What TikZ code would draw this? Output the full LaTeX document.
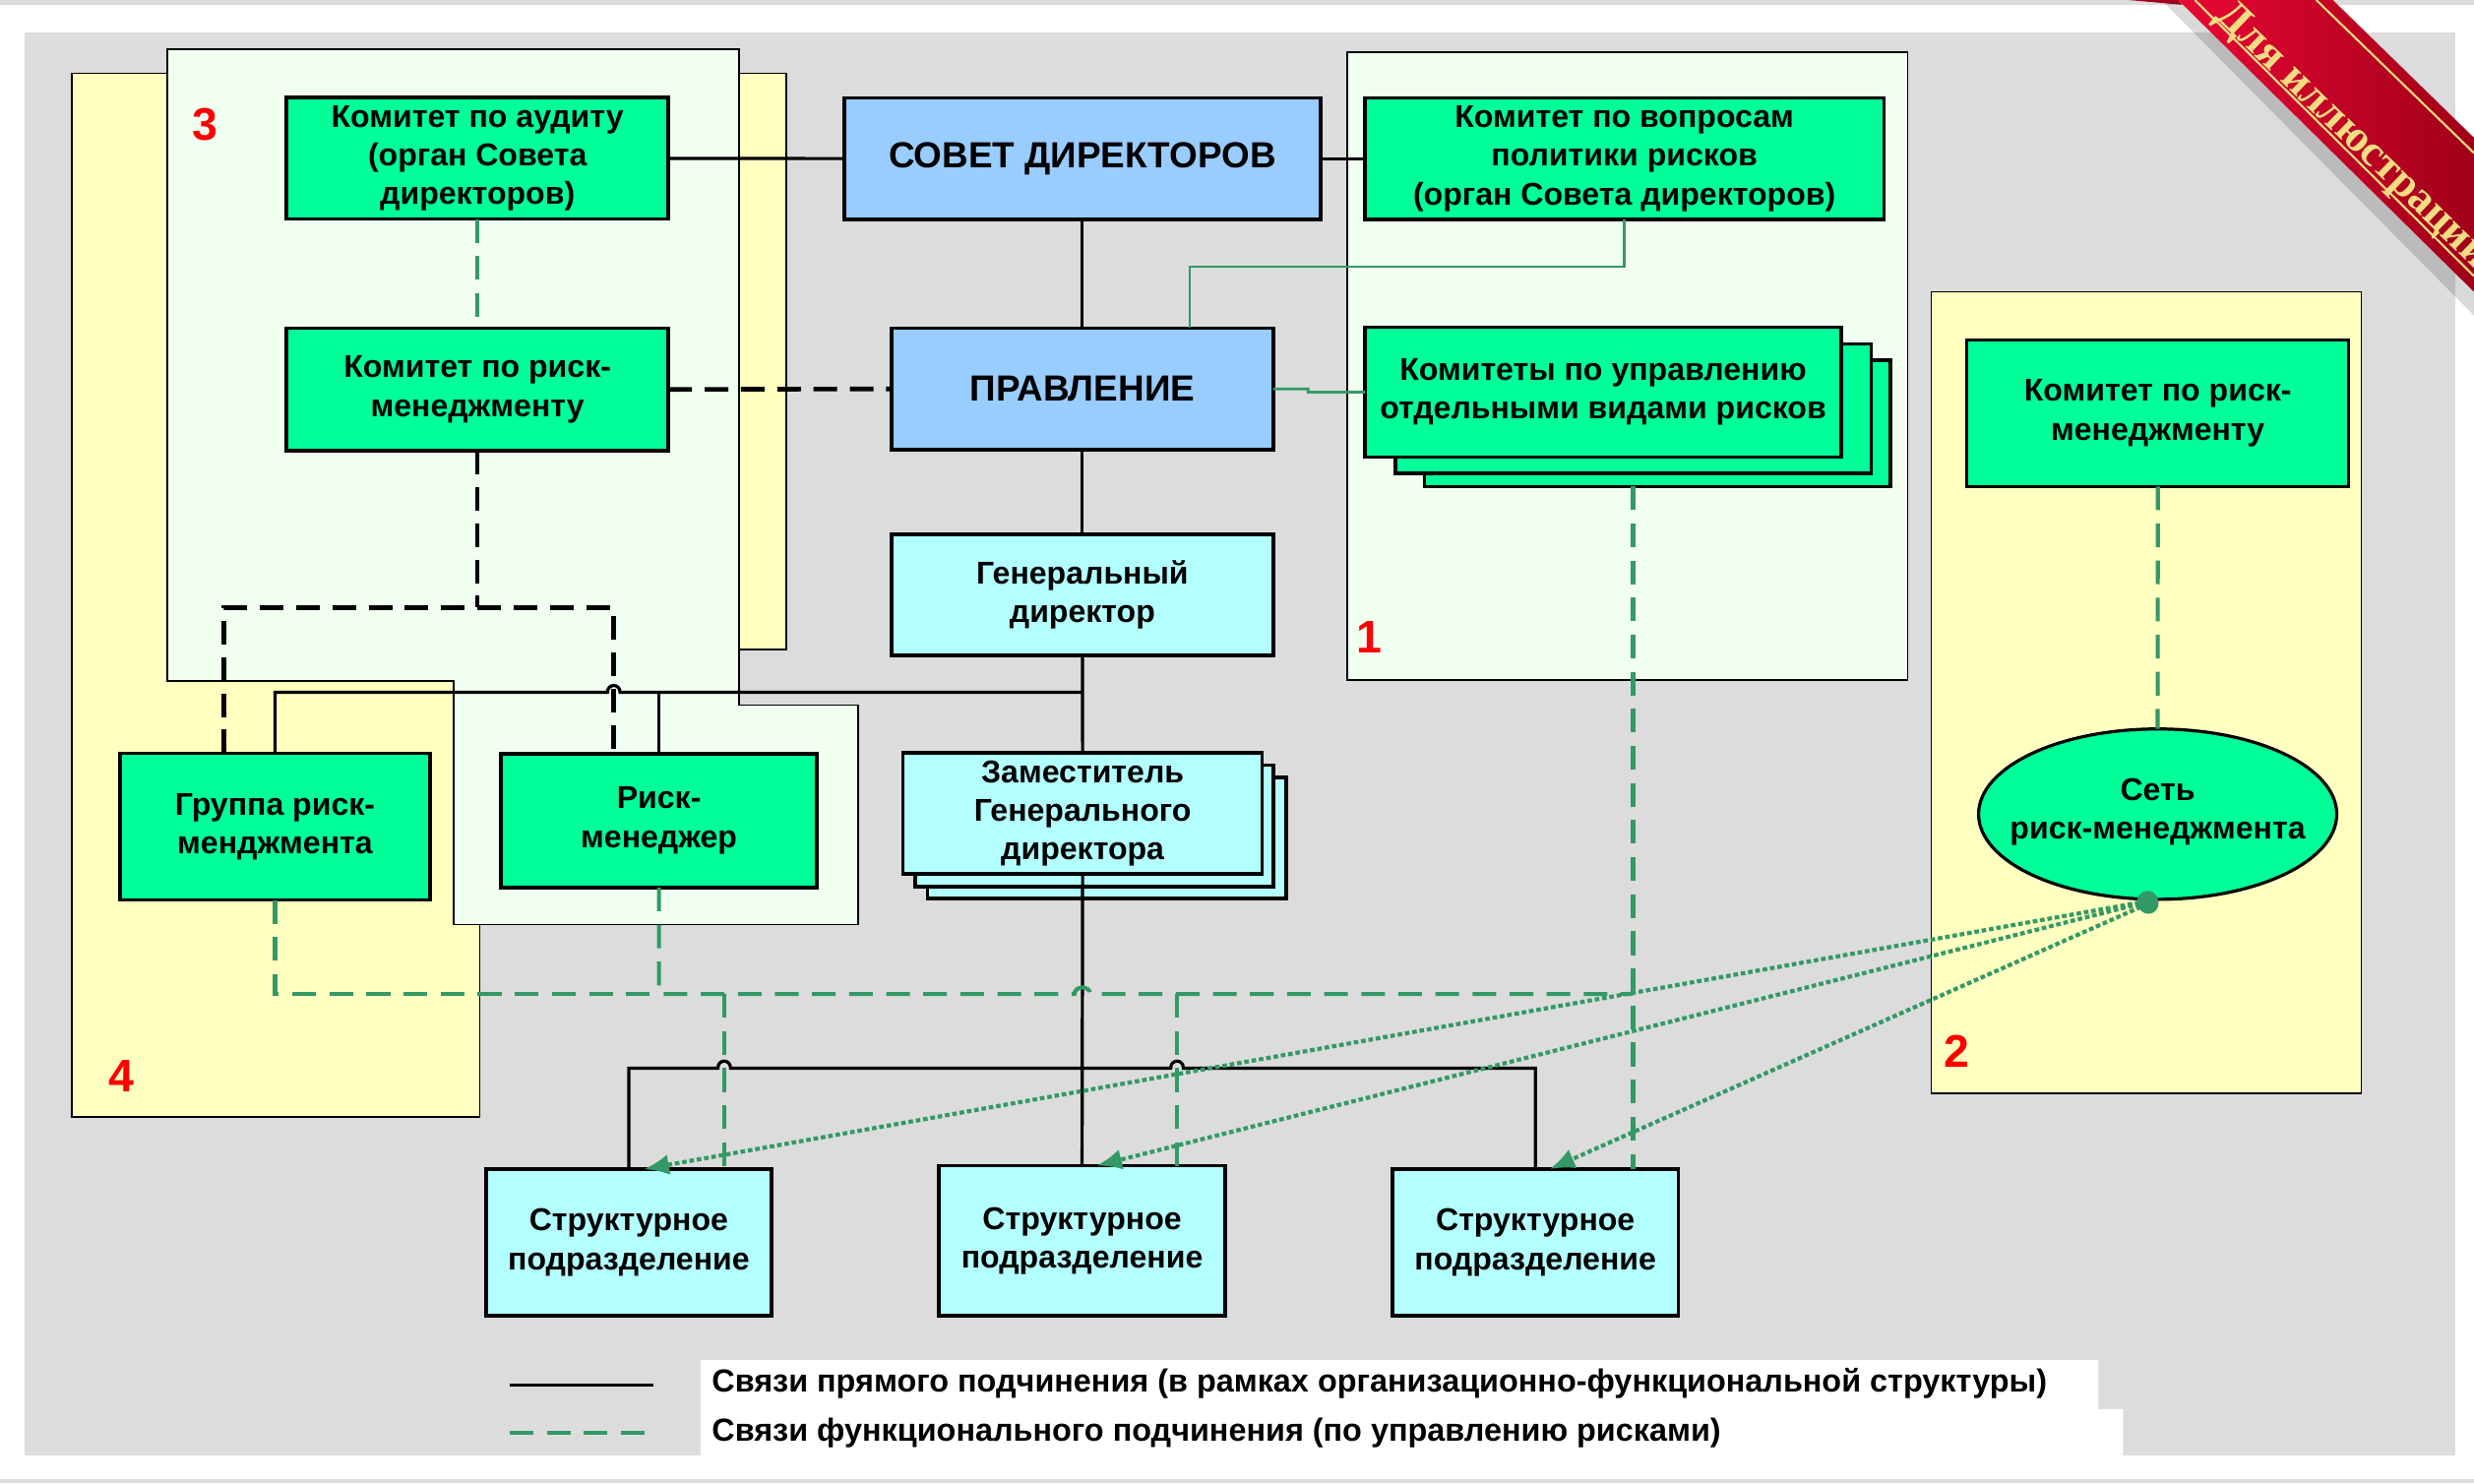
\documentclass[tikz,border=0pt]{standalone}
\usepackage{fontspec}
\setmainfont{Liberation Sans}
\newfontfamily\ribbonfont{Liberation Serif}
\usetikzlibrary{arrows.meta,shapes.geometric}
\definecolor{panel}{RGB}{220,220,220}
\definecolor{boxgreen}{RGB}{0,255,153}
\definecolor{boxcyan}{RGB}{179,255,255}
\definecolor{boxblue}{RGB}{153,204,255}
\definecolor{yel}{RGB}{255,255,192}
\definecolor{palegreen}{RGB}{240,255,240}
\definecolor{lgreen}{RGB}{51,153,102}
\definecolor{ribred}{RGB}{232,8,52}
\definecolor{ribdark}{RGB}{160,0,25}
\definecolor{gold}{RGB}{243,220,130}
\tikzset{
  nodebox/.style={draw=black, line width=2.2pt, inner sep=0pt, outer sep=0pt, align=center,
    font=\fontsize{20}{24.5}\selectfont\bfseries, text=black},
  greenbox/.style={nodebox, fill=boxgreen},
  cyanbox/.style={nodebox, fill=boxcyan},
  bluebox/.style={nodebox, fill=boxblue, font=\fontsize{23}{27}\selectfont\bfseries},
  regionshape/.style={draw=black, line width=1pt},
  numlabel/.style={text=red, font=\fontsize{29}{30}\selectfont\bfseries, inner sep=0pt},
  conn/.style={draw=black, line width=2pt},
  bdash/.style={draw=black, line width=2.9pt, dash pattern=on 15pt off 8pt},
  gdash/.style={draw=lgreen, line width=2.6pt, dash pattern=on 15pt off 8.5pt},
  gsolid/.style={draw=lgreen, line width=1.7pt},
  gdot/.style={draw=lgreen, line width=2.6pt, dash pattern=on 2.9pt off 1.8pt,
    {Circle[length=13pt]}-{Latex[length=16pt,width=13pt]}},
  legendtext/.style={anchor=west, inner sep=0pt, font=\fontsize{20.2}{22}\selectfont\bfseries},
}
\begin{document}
\begin{tikzpicture}[x=1pt,y=-1pt]
\useasboundingbox (0,0) rectangle (1568,940);
% background
\fill[white] (0,0) rectangle (1568,940);
\fill[panel] (0,0) rectangle (1568,3);
\fill[panel] (0,937.5) rectangle (1568,940);
\fill[panel] (15.6,20.3) rectangle (1556,922.5);

% regions
\filldraw[regionshape, fill=yel] (45.5,46.5) -- (498.5,46.5) -- (498.5,411.7) -- (304,411.7) -- (304,708) -- (45.5,708) -- cycle;
\filldraw[regionshape, fill=palegreen] (106,31) -- (468.5,31) -- (468.5,447) -- (544,447) -- (544,586) -- (287.4,586) -- (287.4,431.5) -- (106,431.5) -- cycle;
\filldraw[regionshape, fill=palegreen] (854,33) rectangle (1209,431);
\filldraw[regionshape, fill=yel] (1224,185) rectangle (1496.5,693);

\node[numlabel] (n3) at (130,79) {3};
\node[numlabel] (n1) at (868,404) {1};
\node[numlabel] (n2) at (1240,666) {2};
\node[numlabel] (n4) at (77,682) {4};

% legend background
\fill[white] (444,862) -- (1330,862) -- (1330,893) -- (1345.6,893) -- (1345.6,922.5) -- (444,922.5) -- cycle;

% nodes
\node[bluebox, minimum width=302pt, minimum height=77pt] (sovet) at (686,100.5) {СОВЕТ ДИРЕКТОРОВ};
\node[greenbox, minimum width=242pt, minimum height=77pt] (audit) at (302.6,100.4) {Комитет по аудиту\\(орган Совета\\директоров)};
\node[greenbox, minimum width=329pt, minimum height=77pt] (politika) at (1029.5,100.5) {Комитет по вопросам\\политики рисков\\(орган Совета директоров)};
\node[greenbox, minimum width=242pt, minimum height=77.6pt] (rmkL) at (302.6,246.8) {Комитет по риск-\\менеджменту};
\node[bluebox, minimum width=242pt, minimum height=77pt] (pravl) at (686,246.5) {ПРАВЛЕНИЕ};
\node[greenbox, minimum width=295.2pt, minimum height=79.9pt] (komB) at (1050.4,268.35) {};
\node[greenbox, minimum width=301.6pt, minimum height=82pt] (komM) at (1035.2,259) {};
\node[greenbox, minimum width=302pt, minimum height=82.1pt] (kom) at (1016,248.55) {Комитеты по управлению\\отдельными видами рисков};
\node[greenbox, minimum width=242pt, minimum height=92.8pt] (rmkR) at (1367.6,261.9) {Комитет по риск-\\менеджменту};
\node[cyanbox, minimum width=242pt, minimum height=76.7pt] (gendir) at (686,377.1) {Генеральный\\директор};
\node[cyanbox, minimum width=227.4pt, minimum height=76.6pt] (zamB) at (701.5,531.1) {};
\node[cyanbox, minimum width=227pt, minimum height=77pt] (zamM) at (693.7,523.5) {};
\node[cyanbox, minimum width=227.7pt, minimum height=76.6pt] (zam) at (686.15,515.5) {Заместитель\\Генерального\\директора};
\node[greenbox, minimum width=196.6pt, minimum height=93.1pt] (group) at (174.3,523.95) {Группа риск-\\менджмента};
\node[greenbox, minimum width=200.3pt, minimum height=84.9pt] (rm) at (417.65,520.05) {Риск-\\менеджер};
\node[cyanbox, minimum width=181pt, minimum height=93pt] (s1) at (398.5,787.5) {Структурное\\подразделение};
\node[cyanbox, minimum width=181.5pt, minimum height=95.2pt] (s2) at (685.8,786.4) {Структурное\\подразделение};
\node[cyanbox, minimum width=181.3pt, minimum height=93pt] (s3) at (973.1,787.5) {Структурное\\подразделение};
\node[draw=black, line width=2pt, fill=boxgreen, ellipse, inner sep=0pt, outer sep=0pt,
      minimum width=227pt, minimum height=108pt] (net) at (1367.5,516) {};
\node[align=center, inner sep=0pt, font=\fontsize{20}{24.5}\selectfont\bfseries] (netlabel) at (1367.5,514.5) {Сеть\\риск-менеджмента};

% coordinates
\coordinate (j1) at (686,438.8);
\coordinate (j2) at (686,677);
\coordinate (dL) at (142,385);
\coordinate (dR) at (389,385);
\coordinate (g1) at (754,169);
\coordinate (gh) at (417.65,630);
\coordinate (gv) at (1035,630);
\coordinate (gx1) at (459,630);
\coordinate (gx2) at (746,630);
\coordinate (gs1) at (829,246.5);
\coordinate (gs2) at (829,248.5);

% black solid connectors
\draw[conn] (audit.east) -- (sovet.west);
\draw[conn] (sovet.east) -- (politika.west);
\draw[conn] (sovet.south) -- (pravl.north);
\draw[conn] (pravl.south) -- (gendir.north);
\draw[conn] (gendir.south) -- (zam.north);
\draw[conn] (j1) -- (393,438.8) .. controls (393,433) and (385,433) .. (385,438.8) -- (group.north |- j1) -- (group.north);
\draw[conn] (rm.north |- j1) -- (rm.north);
\draw[conn] (zam.south) -- (s2.north);
\draw[conn] (j2) -- (463,677) .. controls (463,671) and (455,671) .. (455,677) -- (s1.north |- j2) -- (s1.north);
\draw[conn] (j2) -- (742,677) .. controls (742,671) and (750,671) .. (750,677) -- (s3.north |- j2) -- (s3.north);

% black dashed connectors
\draw[bdash] (rmkL.east) -- (pravl.west);
\draw[bdash] (rmkL.south) -- (rmkL.south |- dL);
\draw[bdash] (group.north -| dL) -- (dL) -- (dR) -- (rm.north -| dR);

% green connectors
\draw[gdash] (audit.south) -- (rmkL.north);
\draw[gsolid] (politika.south) |- (g1) -- (pravl.north -| g1);
\draw[gsolid] (pravl.east) -- (gs1) -- (gs2) -- (kom.west);
\draw[gdash] (komB.south -| gv) -- (s3.north -| gv);
\draw[gdash] (rmkR.south) -- (net.north);
\draw[gdash] (group.south) |- (gh);
\draw[gdash] (rm.south) -- (gh) -- (681,630) .. controls (681,624.5) and (691,624.5) .. (691,630) -- (gv);
\draw[gdash] (gx1) -- (s1.north -| gx1);
\draw[gdash] (gx2) -- (s2.north -| gx2);

% dotted arrows from the network
\draw[gdot] (net.south) -- ([xshift=9.5pt]s1.north);
\draw[gdot] (net.south) -- ([xshift=9.2pt]s2.north);
\draw[gdot] (net.south) -- ([xshift=9pt]s3.north);

% legend
\coordinate (l1a) at (323,877.7);
\coordinate (l1b) at (414,877.7);
\coordinate (l2a) at (323,908);
\coordinate (l2b) at (414,908);
\draw[conn] (l1a) -- (l1b);
\draw[gdash] (l2a) -- (l2b);
\node[legendtext] (leg1) at (451,877) {Связи прямого подчинения (в рамках организационно-функциональной структуры)};
\node[legendtext] (leg2) at (451,908) {Связи функционального подчинения (по управлению рисками)};

% ribbon
\begin{scope}
\clip (0,0) rectangle (1568,940);
\fill[black, opacity=0.15] (1370,0) -- (1380.5,0) -- (1568,185) -- (1568,200) -- cycle;
\fill[ribdark] (1349,0) -- (1380.5,0) -- (1383,3) -- cycle;
\shade[left color=ribred, right color=ribdark] (1380.5,0) -- (1478.5,0) -- (1568,87.3) -- (1568,185) -- cycle;
\draw[gold, line width=1.3pt] (1391,0) -- (1568,175);
\draw[gold, line width=1.3pt] (1468,0) -- (1568,97);
\node[text=gold, font=\ribbonfont\bfseries\fontsize{28}{28}\selectfont, rotate=-44, anchor=west, inner sep=0pt] (ribbon) at (1408,6) {Для иллюстраций};
\end{scope}
\end{tikzpicture}
\end{document}
